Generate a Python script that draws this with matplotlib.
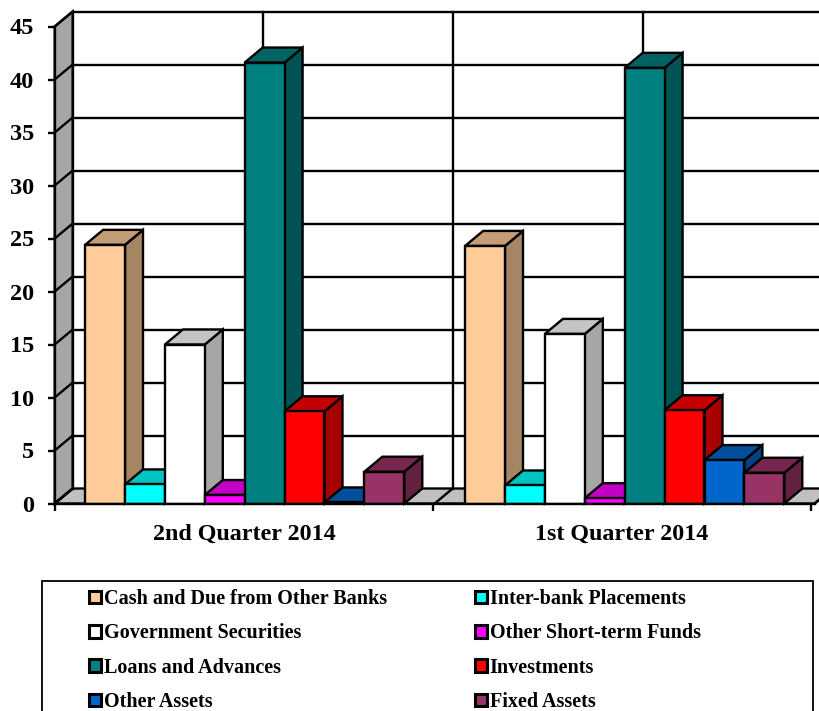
import matplotlib
matplotlib.use('Agg')
import matplotlib.pyplot as plt
from matplotlib.patches import Polygon, Patch, Rectangle

plt.rcParams['font.family'] = ['Liberation Serif', 'DejaVu Serif']
plt.rcParams['font.weight'] = 'bold'

# данные, читаем с картинки
quarters = ['2nd Quarter 2014', '1st Quarter 2014']
series_names = ['Cash and Due from Other Banks', 'Inter-bank Placements',
                'Government Securities', 'Other Short-term Funds',
                'Loans and Advances', 'Investments',
                'Other Assets', 'Fixed Assets']
q2_values = [24.4, 1.8, 15.0, 0.8, 41.6, 8.7, 0.1, 3.0]
q1_values = [24.3, 1.7, 16.0, 0.5, 41.1, 8.8, 4.1, 2.9]
colors = ['#FFCC99', '#00FFFF', '#FFFFFF', '#FF00FF',
          '#008080', '#FF0000', '#0066CC', '#993366']
y_ticks = [0, 5, 10, 15, 20, 25, 30, 35, 40, 45]

W, H = 819, 711
PX_X = 380.0                # пикселей на одну группу
PX_Y = 10.6                 # пикселей на единицу значения
LW = 1.7

fig = plt.figure(figsize=(W / 100, H / 100), dpi=100, facecolor='white')
ax = fig.add_axes([54.7 / W, (H - 503.5) / H, 760 / W, 477 / H])
ax.set_xlim(-0.5, 1.5)
ax.set_ylim(0, 45)

# глубина псевдо-3D в единицах данных
dx = 18 / PX_X
dy = 15 / PX_Y
bar_w = 39.9 / PX_X
x0, x1 = -0.5, 1.5
right_end = x1 + dx


def shade(color, k):
    rgb = matplotlib.colors.to_rgb(color)
    return tuple(c * k for c in rgb)


def poly(points, face, z):
    ax.add_patch(Polygon(points, closed=True, facecolor=face, edgecolor='black',
                         linewidth=LW, joinstyle='miter', clip_on=False, zorder=z))


# левая стенка и пол
poly([(x0, 0), (x0 + dx, dy), (x0 + dx, 45 + dy), (x0, 45)], '#A6A6A6', 1)
poly([(x0, 0), (x0 + dx, dy), (right_end, dy), (x1, 0)], '#C0C0C0', 1)

# сетка на задней стенке и на левой
for v in y_ticks:
    if v > 0:
        ax.plot([x0 + dx, right_end], [v + dy, v + dy], color='black', lw=LW,
                clip_on=False, zorder=1.5, solid_capstyle='butt')
    ax.plot([x0, x0 + dx], [v, v + dy], color='black', lw=LW,
            clip_on=False, zorder=1.5)
for gx in [-0.5, 0, 0.5, 1, 1.5]:
    ax.plot([gx + dx, gx + dx], [dy, 45 + dy], color='black', lw=LW,
            clip_on=False, zorder=1.5)
for gx in [-0.5, 0.5, 1.5]:
    ax.plot([gx, gx + dx], [0, dy], color='black', lw=LW,
            clip_on=False, zorder=1.5)

# столбики, слева направо, чтобы перекрытия были как в оригинале
z = 3
for g, values in enumerate([q2_values, q1_values]):
    for i, v in enumerate(values):
        left = g + (i - 4) * bar_w
        right = left + bar_w
        poly([(right, 0), (right + dx, dy), (right + dx, v + dy), (right, v)],
             shade(colors[i], 0.65), z)
        poly([(left, v), (left + dx, v + dy), (right + dx, v + dy), (right, v)],
             shade(colors[i], 0.77), z)
        ax.bar(left, v, width=bar_w, align='edge', color=colors[i],
               edgecolor='black', linewidth=LW, zorder=z)
        z += 1

# оси
for side in ['top', 'right']:
    ax.spines[side].set_visible(False)
ax.patch.set_visible(False)
for side in ['left', 'bottom']:
    ax.spines[side].set_linewidth(LW)
    ax.spines[side].set_zorder(40)
ax.set_yticks(y_ticks)
ax.tick_params(axis='y', length=5, width=LW, pad=10, labelsize=17.5)
ax.set_xticks([-0.5, 0.495, 1.489])
ax.set_xticklabels([])
ax.set_xticks([0, 0.992], minor=True)
ax.set_xticklabels(quarters, minor=True, fontsize=17.3, fontweight='bold')
ax.tick_params(axis='x', which='major', length=5, width=LW)
ax.tick_params(axis='x', which='minor', length=0, pad=15)

# легенда, низ рамки уходит за край картинки
fig.add_artist(Rectangle((41.5 / W, -0.02), 771.5 / W, 0.02 + (H - 580.5) / H,
                         transform=fig.transFigure, facecolor='white',
                         edgecolor='black', linewidth=1.3, clip_on=True))
handles = [Patch(facecolor=c, edgecolor='black', linewidth=2.2) for c in colors]
order = [0, 2, 4, 6, 1, 3, 5, 7]
fig.legend([handles[i] for i in order], [series_names[i] for i in order],
           ncols=2, frameon=False, loc='upper left',
           bbox_to_anchor=(88.5 / W, (H - 589) / H), borderpad=0, borderaxespad=0,
           prop={'family': 'Liberation Serif', 'weight': 'bold', 'size': 14.5},
           handlelength=0.6, handleheight=0.6, handletextpad=0.15,
           columnspacing=4.36, labelspacing=0.715)

fig.savefig('out.png', dpi=100, facecolor='white')
